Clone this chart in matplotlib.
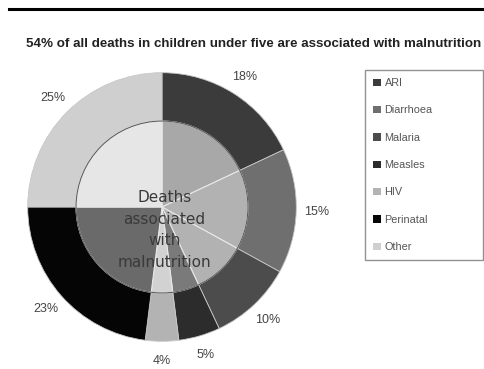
import matplotlib
matplotlib.use("Agg")
import matplotlib.pyplot as plt
from matplotlib.lines import Line2D

# data
causes = ["ARI", "Diarrhoea", "Malaria", "Measles", "HIV", "Perinatal", "Other"]
shares = [18, 15, 10, 5, 4, 23, 25]
share_labels = ["18%", "15%", "10%", "5%", "4%", "23%", "25%"]
title = "54% of all deaths in children under five are associated with malnutrition"
centre_text = "Deaths\nassociated\nwith\nmalnutrition"

outer_colors = ["#3b3b3b", "#6f6f6f", "#4c4c4c", "#2c2c2c", "#b3b3b3", "#050505", "#cfcfcf"]
inner_colors = ["#a8a8a8", "#b2b2b2", "#b2b2b2", "#7a7a7a", "#d2d2d2", "#6a6a6a", "#e6e6e6"]

W, H = 485, 369
fig = plt.figure(figsize=(W / 100, H / 100), dpi=100)
fig.patch.set_facecolor("white")

# thick rule at the top
fig.add_artist(Line2D([9 / W, 1.0], [1 - 9 / H, 1 - 9 / H], color="black", lw=2.2))

fig.text(254 / W, 1 - 44 / H, title, ha="center", va="center",
         fontsize=9.6, fontweight="bold", family="Liberation Sans", color="#222222")

cx, cy, r = 162, 207, 137
ax = fig.add_axes([(cx - r) / W, (H - cy - r) / H, 2 * r / W, 2 * r / H])

outer, texts = ax.pie(shares, colors=outer_colors, startangle=90, counterclock=False,
                      radius=1.0, labels=share_labels, labeldistance=1.15,
                      wedgeprops=dict(edgecolor="#c8c8c8", linewidth=0.6),
                      textprops=dict(fontsize=9, color="#444444", family="Liberation Sans"))
for t in texts:
    t.set_ha("center")
    t.set_va("center")

ax.pie(shares, colors=inner_colors, startangle=90, counterclock=False,
       radius=0.64, wedgeprops=dict(edgecolor="#e8e8e8", linewidth=0.8))
ax.add_patch(plt.Circle((0, 0), 0.64, fill=False, edgecolor="#555555", lw=0.7))

ax.text(0.02, -0.17, centre_text, ha="center", va="center", fontsize=11,
        color="#3a3a3a", linespacing=1.55)
ax.set_xlim(-1.02, 1.02)
ax.set_ylim(-1.02, 1.02)
ax.set_aspect("equal")

leg = fig.legend(outer, causes, loc="upper left",
                 bbox_to_anchor=(365 / W, 80 / H, 118 / W, 1 - 80 / H - 70 / H),
                 mode="expand", frameon=True, fancybox=False,
                 prop=dict(size=7.8, family="Liberation Sans"),
                 labelcolor="#555555", handlelength=0.7, handleheight=0.7,
                 handletextpad=0.35, labelspacing=1.6, borderpad=0.75,
                 borderaxespad=0)
leg.get_frame().set_edgecolor("#777777")
leg.get_frame().set_linewidth(1.0)
for h in leg.legend_handles:
    h.set_edgecolor("none")

fig.savefig("out.png", dpi=100)
